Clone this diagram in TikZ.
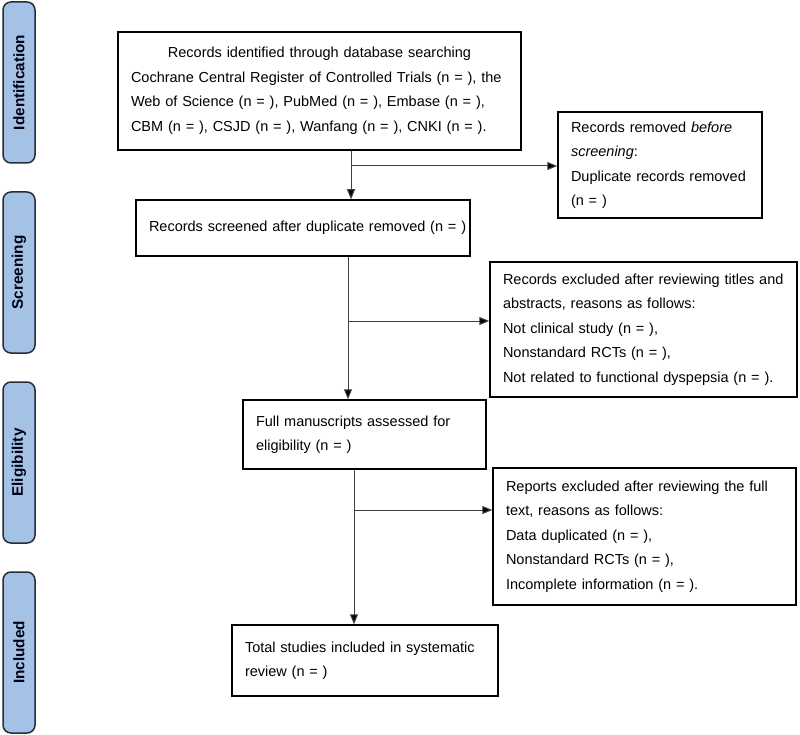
\documentclass[tikz,border=0pt]{standalone}
\usepackage{fontspec}
\setmainfont{Liberation Sans}
\usetikzlibrary{arrows.meta}
\definecolor{barfill}{RGB}{164,194,230}
\definecolor{barline}{RGB}{40,44,56}
\tikzset{
  box/.style={draw=black, line width=1.5pt, align=left, inner xsep=13pt, inner ysep=0pt,
    font=\fontsize{14.5}{24.5}\selectfont, anchor=center},
  bar/.style={draw=barline, fill=barfill, line width=1.5pt, rounded corners=8pt,
    minimum width=32pt, minimum height=161pt, inner sep=0pt},
  bartext/.style={font=\fontsize{15.3}{17}\selectfont\bfseries, rotate=90, text=black!92!blue},
  arr/.style={draw=black!75, line width=1pt, -{Triangle[length=10pt,width=8pt,fill=black]}}
}
\begin{document}
\begin{tikzpicture}[x=1pt,y=-1pt]
\useasboundingbox (0,0) rectangle (800,735);
% side bars
\node[bar] (s1) at (19,82.5) {};
\node[bartext] (t1) at (s1.center) {Identification};
\node[bar] (s2) at (19,272.5) {};
\node[bartext] (t2) at (s2.center) {Screening};
\node[bar] (s3) at (19,462.5) {};
\node[bartext] (t3) at (s3.center) {Eligibility};
\node[bar] (s4) at (19,652.5) {};
\node[bartext] (t4) at (s4.center) {Included};
% boxes
\node[box, text width=377pt, minimum height=118pt] (b1) at (319.5,91)
  {\makebox[\linewidth][c]{Records identified through database searching}\\
   \mbox{Cochrane Central Register of Controlled Trials (n = ), the}\\
   \mbox{Web of Science (n = ), PubMed (n = ), Embase (n = ),}\\
   \mbox{CBM (n = ), CSJD (n = ), Wanfang (n = ), CNKI (n = ).}};
\node[box, text width=178pt, minimum height=106pt] (b3) at (660,165)
  {\mbox{Records removed \textit{before}}\\ \mbox{\textit{screening}:}\\ \mbox{Duplicate records removed}\\ \mbox{(n = )}};
\node[box, text width=308pt, minimum height=56pt] (b2) at (303,228)
  {\mbox{Records screened after duplicate removed (n = )}};
\node[box, text width=281pt, minimum height=135pt] (b5) at (643.5,329.5)
  {\mbox{Records excluded after reviewing titles and}\\ \mbox{abstracts, reasons as follows:}\\ \mbox{Not clinical study (n = ),}\\ \mbox{Nonstandard RCTs (n = ),}\\ \mbox{Not related to functional dyspepsia (n = ).}};
\node[box, text width=217pt, minimum height=69pt] (b4) at (364.5,434.5)
  {\mbox{Full manuscripts assessed for}\\ \mbox{eligibility (n = )}};
\node[box, text width=277pt, minimum height=137pt] (b6) at (644.5,536.5)
  {\mbox{Reports excluded after reviewing the full}\\ \mbox{text, reasons as follows:}\\ \mbox{Data duplicated (n = ),}\\ \mbox{Nonstandard RCTs (n = ),}\\ \mbox{Incomplete information (n = ).}};
\node[box, text width=240pt, minimum height=71pt] (b7) at (365,660.5)
  {\mbox{Total studies included in systematic}\\ \mbox{review (n = )}};
% connectors
\coordinate (c1) at (351,166);
\coordinate (c2) at (348,321);
\coordinate (c3) at (354,510);
\draw[arr] (b1.south -| c1) -- (b2.north -| c1);
\draw[arr] (c1) -- (c1 -| b3.west);
\draw[arr] (b2.south -| c2) -- (b4.north -| c2);
\draw[arr] (c2) -- (c2 -| b5.west);
\draw[arr] (b4.south -| c3) -- (b7.north -| c3);
\draw[arr] (c3) -- (c3 -| b6.west);
\end{tikzpicture}
\end{document}
